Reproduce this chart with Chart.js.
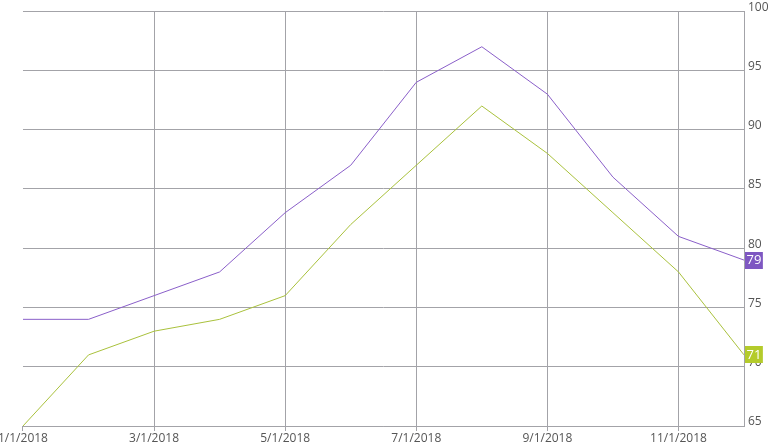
<!DOCTYPE html>
<html>
<head>
<meta charset="utf-8">
<script src="https://cdn.jsdelivr.net/npm/chart.js@4.4.1/dist/chart.umd.min.js"></script>
<style>
html,body{margin:0;padding:0;background:#fff;}
#wrap{position:relative;width:768px;height:445px;overflow:hidden;}
#c{position:absolute;left:-2px;top:0;}
</style>
</head>
<body>
<div id="wrap"><canvas id="c" width="770" height="445"></canvas></div>
<script>
const categories = ['1/1/2018','2/1/2018','3/1/2018','4/1/2018','5/1/2018','6/1/2018','7/1/2018','8/1/2018','9/1/2018','10/1/2018','11/1/2018','12/1/2018'];
const purpleSeries = [74, 74, 76, 78, 83, 87, 94, 97, 93, 86, 81, 79];
const greenSeries = [65, 71, 73, 74, 76, 82, 87, 92, 88, 83, 78, 71];
const yTicks = [65, 70, 75, 80, 85, 90, 95, 100];

const PURPLE = '#8a5fc9';
const GREEN = '#a9c13c';
const PURPLE_BADGE = '#7e57c2';
const GREEN_BADGE = '#b4cb2b';
const GRID = '#a3a3a8';
const FONT = "'Open Sans', 'Noto Sans', sans-serif";

const badgePlugin = {
  id: 'badges',
  afterDatasetsDraw(chart) {
    const ctx = chart.ctx;
    const y = chart.scales.y;
    const area = chart.chartArea;
    const badges = [
      {v: purpleSeries[purpleSeries.length-1], c: PURPLE_BADGE},
      {v: greenSeries[greenSeries.length-1], c: GREEN_BADGE}
    ];
    ctx.save();
    ctx.font = '13px ' + FONT;
    badges.forEach(b => {
      const py = y.getPixelForValue(b.v);
      const txt = String(b.v);
      const w = ctx.measureText(txt).width + 3;
      const h = 17;
      ctx.fillStyle = b.c;
      ctx.fillRect(area.right + 1, Math.round(py - h/2), w, h);
      ctx.fillStyle = '#ffffff';
      ctx.textBaseline = 'middle';
      ctx.textAlign = 'left';
      ctx.fillText(txt, area.right + 2.5, py + 0.5);
    });
    ctx.restore();
  }
};

new Chart(document.getElementById('c'), {
  type: 'line',
  data: {
    labels: categories,
    datasets: [
      {data: purpleSeries, borderColor: PURPLE, borderWidth: 1, pointRadius: 0, tension: 0, fill: false},
      {data: greenSeries, borderColor: GREEN, borderWidth: 1, pointRadius: 0, tension: 0, fill: false}
    ]
  },
  options: {
    responsive: false,
    animation: false,
    layout: {padding: {top: 4, left: 0, right: 0, bottom: 0}},
    plugins: {legend: {display: false}, tooltip: {enabled: false}},
    scales: {
      x: {
        type: 'category',
        offset: false,
        afterFit: (s) => { s.height = 19; },
        border: {display: true, color: GRID},
        grid: {
          color: (c) => (c.index === 0 || c.index % 2 === 1) ? 'rgba(0,0,0,0)' : GRID,
          tickColor: (c) => (c.index % 2 === 1) ? 'rgba(0,0,0,0)' : GRID,
          tickLength: 5,
          lineWidth: 1
        },
        ticks: {
          autoSkip: false,
          maxRotation: 0,
          padding: 0,
          color: '#555555',
          font: {family: FONT, size: 12},
          callback: function(v, i) { return i % 2 === 0 ? categories[i] : ''; }
        }
      },
      y: {
        position: 'right',
        min: 65,
        max: 100,
        afterFit: (s) => { s.width = 24; },
        afterBuildTicks: (s) => { s.ticks = yTicks.map(v => ({value: v})); },
        border: {display: true, color: GRID},
        grid: {color: GRID, drawTicks: false, lineWidth: 1},
        ticks: {
          padding: 4,
          labelOffset: -4,
          color: '#555555',
          font: {family: FONT, size: 12}
        }
      }
    }
  },
  plugins: [badgePlugin]
});
</script>
</body>
</html>
